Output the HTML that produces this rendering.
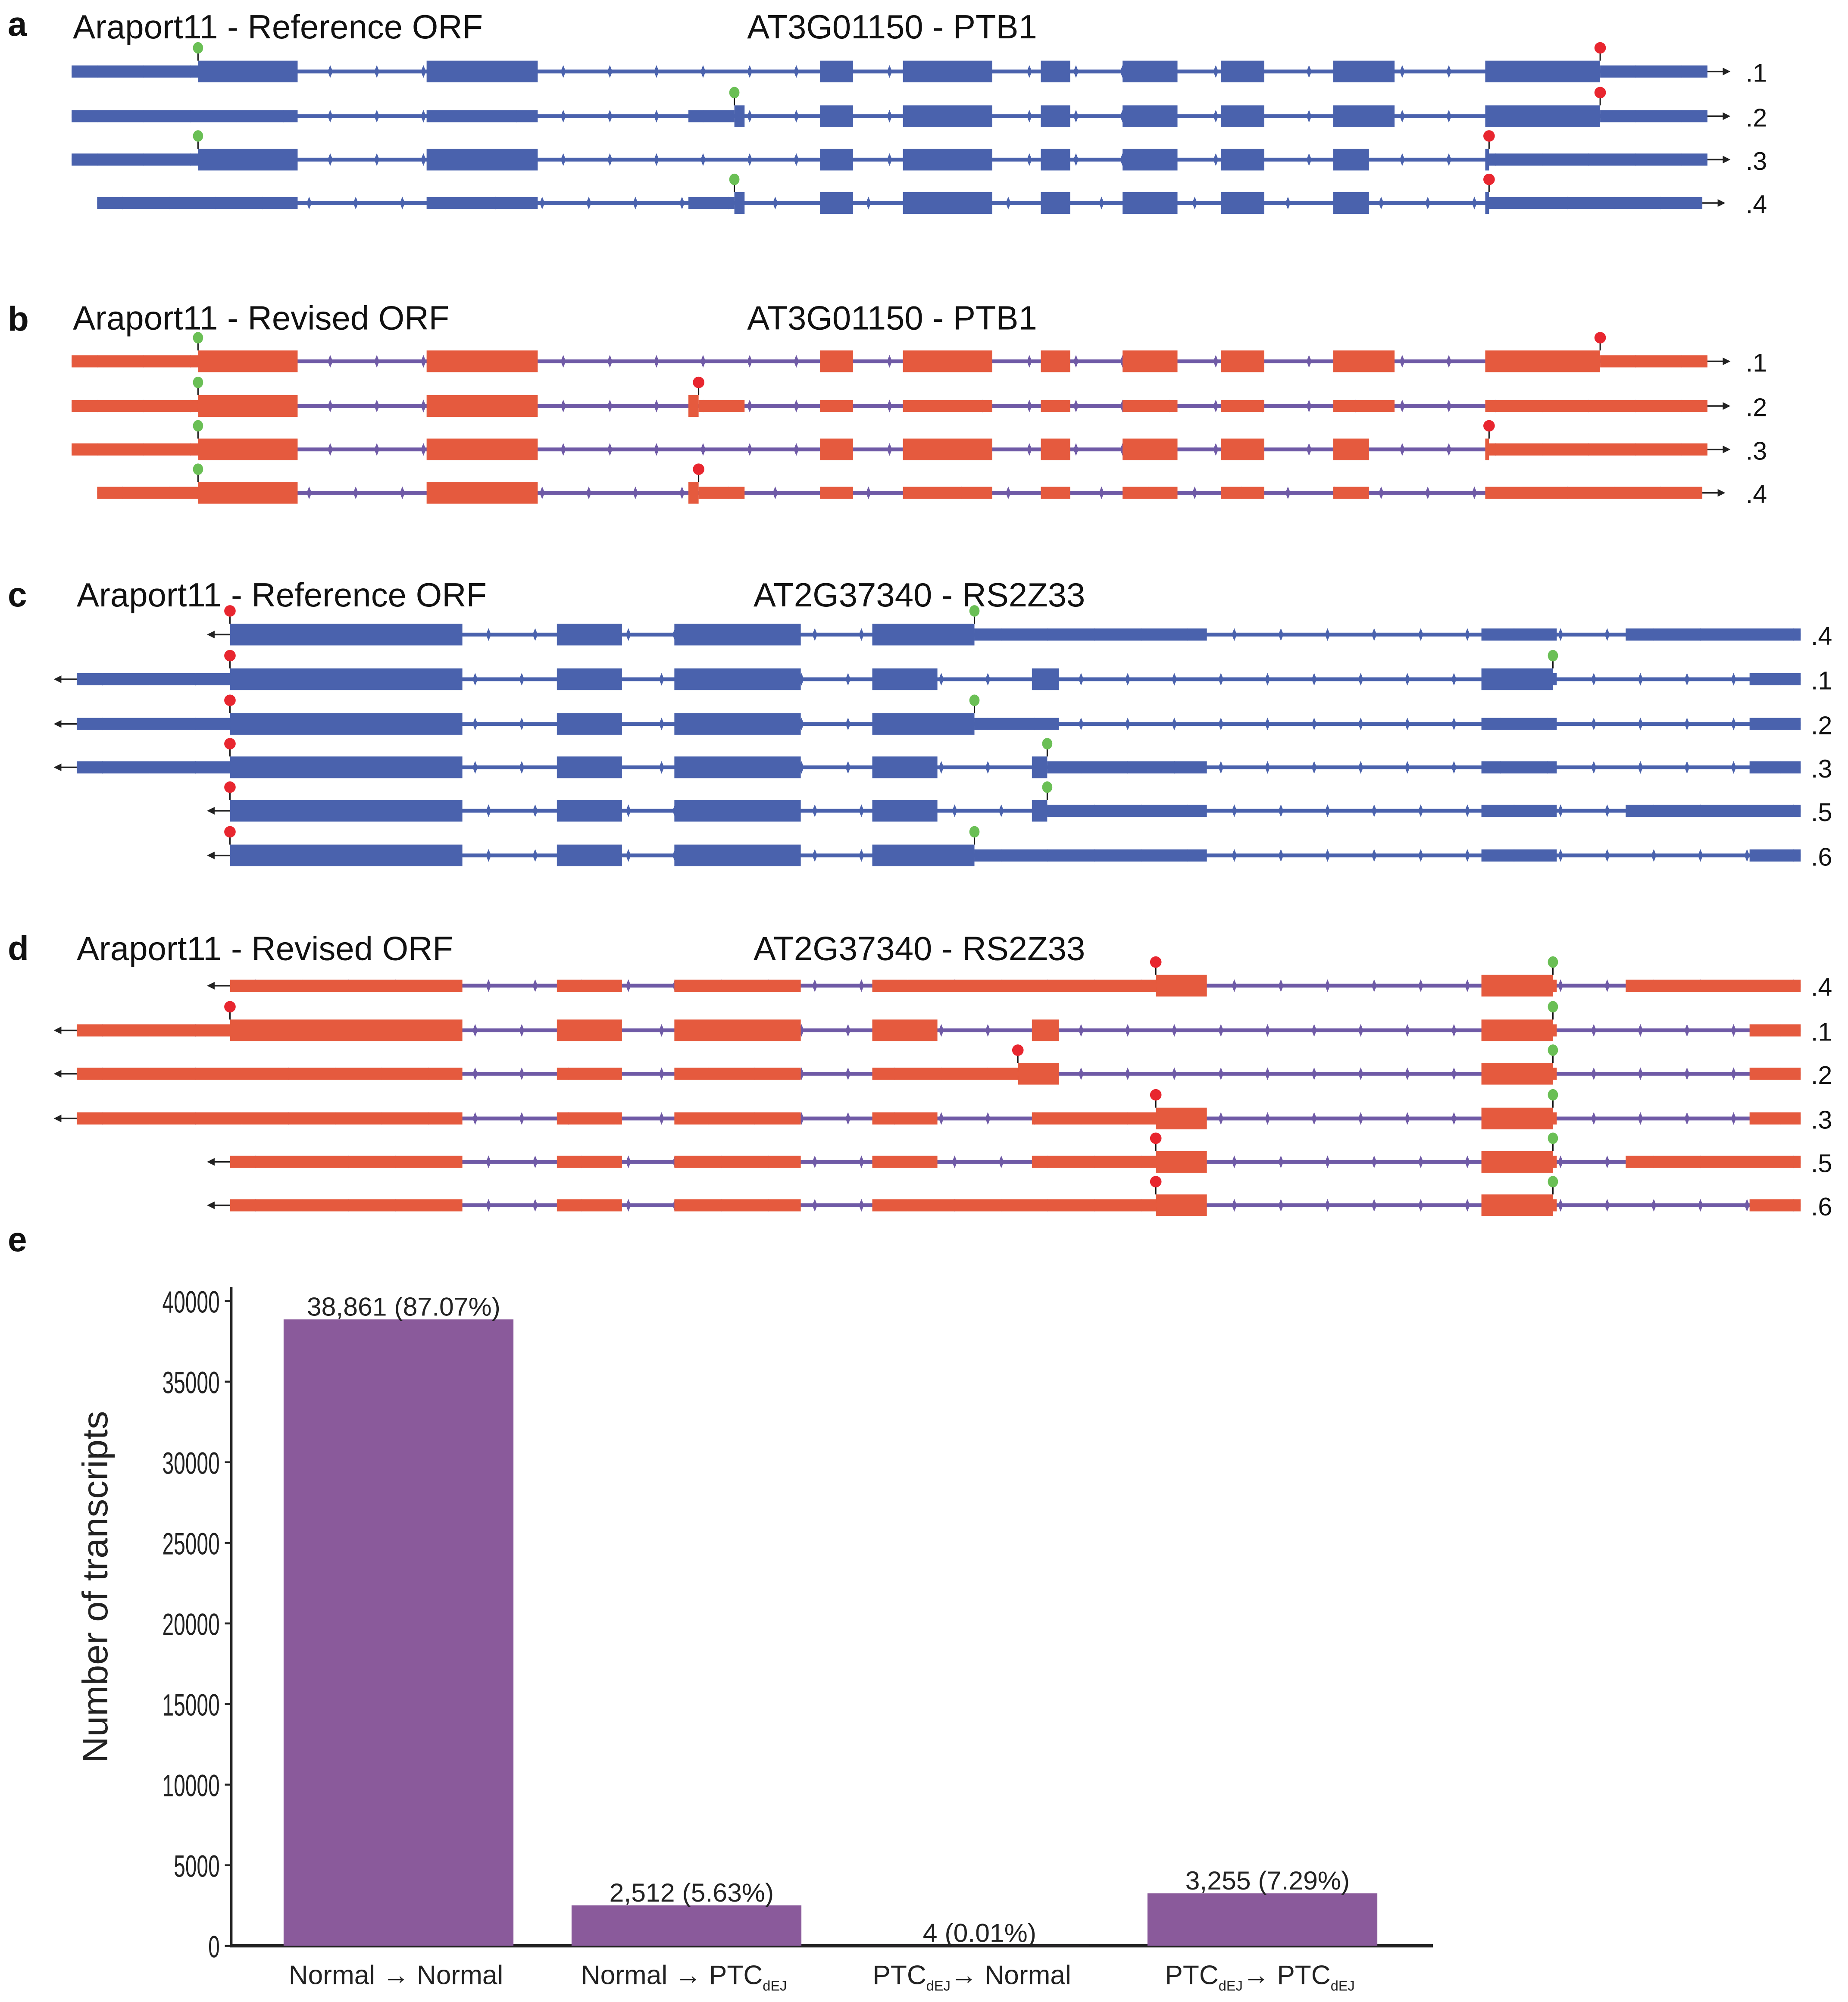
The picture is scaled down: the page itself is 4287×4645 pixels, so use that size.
<!DOCTYPE html>
<html><head><meta charset="utf-8"><style>
html,body{margin:0;padding:0;background:#fff}
svg{display:block}
text{font-family:"Liberation Sans",sans-serif}
</style></head>
<body>
<svg id="fig" xmlns="http://www.w3.org/2000/svg" width="4287" height="4645" viewBox="0 0 1447 1568">
<rect width="1447" height="1568" fill="#fff"/>
<g id="labels" font-size="26.3" fill="#111">
<text x="6" y="28" font-weight="bold" font-size="27">a</text>
<text x="57" y="30">Araport11 - Reference ORF</text>
<text x="585" y="30">AT3G01150 - PTB1</text>
<text x="6" y="259" font-weight="bold" font-size="27">b</text>
<text x="57" y="258">Araport11 - Revised ORF</text>
<text x="585" y="258">AT3G01150 - PTB1</text>
<text x="6" y="475" font-weight="bold" font-size="27">c</text>
<text x="60" y="475">Araport11 - Reference ORF</text>
<text x="590" y="475">AT2G37340 - RS2Z33</text>
<text x="6" y="752" font-weight="bold" font-size="27">d</text>
<text x="60" y="752">Araport11 - Revised ORF</text>
<text x="590" y="752">AT2G37340 - RS2Z33</text>
<text x="6" y="980" font-weight="bold" font-size="27">e</text>
</g>
<g id="genes"></g>
<g id="chart"></g>
</svg>
<script>
// Gene models: rows of [start,end,type] with t = coding (tall), u = UTR (thin)
const panelA = [
 {y:56, lab:'.1', from:56, to:1337, dir:1, seg:[[56,155,'u'],[155,233,'t'],[334,421,'t'],[642,668,'t'],[707,777,'t'],[815,838,'t'],[879,922,'t'],[956,990,'t'],[1044,1092,'t'],[1163,1253,'t'],[1253,1337,'u']], start:155, stop:1253},
 {y:91, lab:'.2', from:56, to:1337, dir:1, seg:[[56,233,'u'],[334,421,'u'],[539,575,'u'],[575,583,'t'],[642,668,'t'],[707,777,'t'],[815,838,'t'],[879,922,'t'],[956,990,'t'],[1044,1092,'t'],[1163,1253,'t'],[1253,1337,'u']], start:575, stop:1253},
 {y:125, lab:'.3', from:56, to:1337, dir:1, seg:[[56,155,'u'],[155,233,'t'],[334,421,'t'],[642,668,'t'],[707,777,'t'],[815,838,'t'],[879,922,'t'],[956,990,'t'],[1044,1072,'t'],[1163,1166,'t'],[1166,1337,'u']], start:155, stop:1166},
 {y:159, lab:'.4', from:76, to:1333, dir:1, seg:[[76,233,'u'],[334,421,'u'],[539,575,'u'],[575,583,'t'],[642,668,'t'],[707,777,'t'],[815,838,'t'],[879,922,'t'],[956,990,'t'],[1044,1072,'t'],[1163,1166,'t'],[1166,1333,'u']], start:575, stop:1166}
];
const panelB = [
 {y:283, lab:'.1', from:56, to:1337, dir:1, seg:[[56,155,'u'],[155,233,'t'],[334,421,'t'],[642,668,'t'],[707,777,'t'],[815,838,'t'],[879,922,'t'],[956,990,'t'],[1044,1092,'t'],[1163,1253,'t'],[1253,1337,'u']], start:155, stop:1253},
 {y:318, lab:'.2', from:56, to:1337, dir:1, seg:[[56,155,'u'],[155,233,'t'],[334,421,'t'],[539,547,'t'],[547,583,'u'],[642,668,'u'],[707,777,'u'],[815,838,'u'],[879,922,'u'],[956,990,'u'],[1044,1092,'u'],[1163,1337,'u']], start:155, stop:547},
 {y:352, lab:'.3', from:56, to:1337, dir:1, seg:[[56,155,'u'],[155,233,'t'],[334,421,'t'],[642,668,'t'],[707,777,'t'],[815,838,'t'],[879,922,'t'],[956,990,'t'],[1044,1072,'t'],[1163,1166,'t'],[1166,1337,'u']], start:155, stop:1166},
 {y:386, lab:'.4', from:76, to:1333, dir:1, seg:[[76,155,'u'],[155,233,'t'],[334,421,'t'],[539,547,'t'],[547,583,'u'],[642,668,'u'],[707,777,'u'],[815,838,'u'],[879,922,'u'],[956,990,'u'],[1044,1072,'u'],[1163,1333,'u']], start:155, stop:547}
];
const panelC = [
 {y:497, lab:'.4', from:180, to:1410, dir:-1, seg:[[180,362,'t'],[436,487,'t'],[528,627,'t'],[683,763,'t'],[763,945,'u'],[1160,1219,'u'],[1273,1410,'u']], start:763, stop:180},
 {y:532, lab:'.1', from:60, to:1410, dir:-1, seg:[[60,180,'u'],[180,362,'t'],[436,487,'t'],[528,627,'t'],[683,734,'t'],[808,829,'t'],[1160,1216,'t'],[1216,1219,'u'],[1370,1410,'u']], start:1216, stop:180},
 {y:567, lab:'.2', from:60, to:1410, dir:-1, seg:[[60,180,'u'],[180,362,'t'],[436,487,'t'],[528,627,'t'],[683,763,'t'],[763,829,'u'],[1160,1219,'u'],[1370,1410,'u']], start:763, stop:180},
 {y:601, lab:'.3', from:60, to:1410, dir:-1, seg:[[60,180,'u'],[180,362,'t'],[436,487,'t'],[528,627,'t'],[683,734,'t'],[808,820,'t'],[820,945,'u'],[1160,1219,'u'],[1370,1410,'u']], start:820, stop:180},
 {y:635, lab:'.5', from:180, to:1410, dir:-1, seg:[[180,362,'t'],[436,487,'t'],[528,627,'t'],[683,734,'t'],[808,820,'t'],[820,945,'u'],[1160,1219,'u'],[1273,1410,'u']], start:820, stop:180},
 {y:670, lab:'.6', from:180, to:1410, dir:-1, seg:[[180,362,'t'],[436,487,'t'],[528,627,'t'],[683,763,'t'],[763,945,'u'],[1160,1219,'u'],[1370,1410,'u']], start:763, stop:180}
];
const panelD = [
 {y:772, lab:'.4', from:180, to:1410, dir:-1, seg:[[180,362,'u'],[436,487,'u'],[528,627,'u'],[683,905,'u'],[905,945,'t'],[1160,1216,'t'],[1216,1219,'u'],[1273,1410,'u']], start:1216, stop:905},
 {y:807, lab:'.1', from:60, to:1410, dir:-1, seg:[[60,180,'u'],[180,362,'t'],[436,487,'t'],[528,627,'t'],[683,734,'t'],[808,829,'t'],[1160,1216,'t'],[1216,1219,'u'],[1370,1410,'u']], start:1216, stop:180},
 {y:841, lab:'.2', from:60, to:1410, dir:-1, seg:[[60,362,'u'],[436,487,'u'],[528,627,'u'],[683,797,'u'],[797,829,'t'],[1160,1216,'t'],[1216,1219,'u'],[1370,1410,'u']], start:1216, stop:797},
 {y:876, lab:'.3', from:60, to:1410, dir:-1, seg:[[60,362,'u'],[436,487,'u'],[528,627,'u'],[683,734,'u'],[808,905,'u'],[905,945,'t'],[1160,1216,'t'],[1216,1219,'u'],[1370,1410,'u']], start:1216, stop:905},
 {y:910, lab:'.5', from:180, to:1410, dir:-1, seg:[[180,362,'u'],[436,487,'u'],[528,627,'u'],[683,734,'u'],[808,905,'u'],[905,945,'t'],[1160,1216,'t'],[1216,1219,'u'],[1273,1410,'u']], start:1216, stop:905},
 {y:944, lab:'.6', from:180, to:1410, dir:-1, seg:[[180,362,'u'],[436,487,'u'],[528,627,'u'],[683,905,'u'],[905,945,'t'],[1160,1216,'t'],[1216,1219,'u'],[1370,1410,'u']], start:1216, stop:905}
];
// Bar chart data
const categories = ['Normal → Normal','Normal → PTC','PTC → Normal','PTC → PTC'];
const counts = [38861, 2512, 4, 3255];
const valueLabels = ['38,861 (87.07%)','2,512 (5.63%)','4 (0.01%)','3,255 (7.29%)'];
const yTicks = [0,5000,10000,15000,20000,25000,30000,35000,40000];

const NS='http://www.w3.org/2000/svg';
function mk(tag, attrs, parent){const e=document.createElementNS(NS,tag);for(const k in attrs)e.setAttribute(k,attrs[k]);parent.appendChild(e);return e;}

const genes=document.getElementById('genes');
function drawPanel(rows, color, intronColor, labX, pname){
  const g=mk('g',{},genes);
  
  
  rows.forEach((r,i)=>{
    const rg=mk('g',{},g);
    
    
    mk('rect',{x:r.from,y:r.y-1.5,width:r.to-r.from,height:3,fill:intronColor},rg);
    for(let x=r.from+20;x<r.to-5;x+=36.5){
      mk('path',{d:`M${x} ${r.y-5}L${x+2} ${r.y}L${x} ${r.y+5}L${x-2} ${r.y}Z`,fill:intronColor},rg);
    }
    if(r.dir>0){
      mk('line',{x1:r.to,y1:r.y,x2:r.to+14,y2:r.y,stroke:'#222','stroke-width':1.2},rg);
      mk('path',{d:`M${r.to+18} ${r.y}L${r.to+12} ${r.y-3}L${r.to+12} ${r.y+3}Z`,fill:'#222'},rg);
    } else {
      mk('line',{x1:r.from,y1:r.y,x2:r.from-14,y2:r.y,stroke:'#222','stroke-width':1.2},rg);
      mk('path',{d:`M${r.from-18} ${r.y}L${r.from-12} ${r.y-3}L${r.from-12} ${r.y+3}Z`,fill:'#222'},rg);
    }
    r.seg.forEach(s=>{
      const h=s[2]==='t'?17:9.5;
      const e=mk('rect',{x:s[0],y:r.y-h/2,width:s[1]-s[0],height:h,fill:color},rg);
      
      
    });
    const top=r.y-8.5;
    mk('line',{x1:r.start,y1:top,x2:r.start,y2:top-8,stroke:'#111','stroke-width':1},rg);
    const sc=mk('ellipse',{cx:r.start,cy:top-10,rx:4,ry:4.5,fill:'#6abf55'},rg);
    
    
    mk('line',{x1:r.stop,y1:top,x2:r.stop,y2:top-8,stroke:'#111','stroke-width':1},rg);
    const pc=mk('circle',{cx:r.stop,cy:top-10,r:4.5,fill:'#e8262f'},rg);
    
    
    const t=mk('text',{x:labX,y:r.y+8,'font-size':20,fill:'#111'},rg);
    t.textContent=r.lab;
    
    
  });
}
drawPanel(panelA,'#4a62ad','#4a62ad',1367,'panel-a');
drawPanel(panelB,'#e55a3e','#6f5aa6',1367,'panel-b');
drawPanel(panelC,'#4a62ad','#4a62ad',1418,'panel-c');
drawPanel(panelD,'#e55a3e','#6f5aa6',1418,'panel-d');

// Bar chart
const chart=document.getElementById('chart');
const x0=181, x1=1122, yBase=1524, yTop40k=1019;
const yScale=v=>yBase-(yBase-yTop40k)*v/40000;
const barW=180;
const xCenter=i=>312+i*225.5;
const ax=mk('line',{x1:x0,y1:1008,x2:x0,y2:yBase,stroke:'#222','stroke-width':2},chart);


const bx=mk('line',{x1:x0-1,y1:yBase,x2:x1,y2:yBase,stroke:'#222','stroke-width':2.5},chart);


yTicks.forEach(v=>{
  const y=yScale(v);
  mk('line',{x1:x0-5,y1:y,x2:x0,y2:y,stroke:'#222','stroke-width':1.5},chart);
  const s=String(v);
  const t=mk('text',{x:x0-9,y:y+9,'font-size':24,'text-anchor':'end',fill:'#222',textLength:s.length*9,lengthAdjust:'spacingAndGlyphs'},chart);
  t.textContent=s;
  
  
});
const yt=mk('text',{x:0,y:0,'font-size':28,'text-anchor':'middle',fill:'#222',transform:'translate(84,1243) rotate(-90)','font-family':'DejaVu Sans, sans-serif',textLength:276,lengthAdjust:'spacingAndGlyphs'},chart);
yt.textContent='Number of transcripts';


counts.forEach((v,i)=>{
  const cx=xCenter(i), y=yScale(v);
  const b=mk('rect',{x:cx-barW/2,y:y,width:barW,height:yBase-y,fill:'#8a5a9b'},chart);
  
  
  const t=mk('text',{x:cx+4,y:y-3,'font-size':20.5,'text-anchor':'middle',fill:'#222'},chart);
  t.textContent=valueLabels[i];
  
  
});
const xl=[
 [['Normal → Normal','']],
 [['Normal → PTC',''],['dEJ','sub']],
 [['PTC',''],['dEJ','sub'],['→ Normal','']],
 [['PTC',''],['dEJ','sub'],['→ PTC',''],['dEJ','sub']]
];
categories.forEach((c,i)=>{
  const t=mk('text',{x:xCenter(i)-2,y:1554,'font-size':21,'text-anchor':'middle',fill:'#222'},chart);
  
  
  let prevSub=false;
  xl[i].forEach(p=>{
    const isSub=p[1]==='sub';
    const s=mk('tspan',isSub?{'font-size':11,dy:5}:{dy:prevSub?-5:0},t);
    s.textContent=p[0];
    prevSub=isSub;
  });
});
</script>
</body></html>
